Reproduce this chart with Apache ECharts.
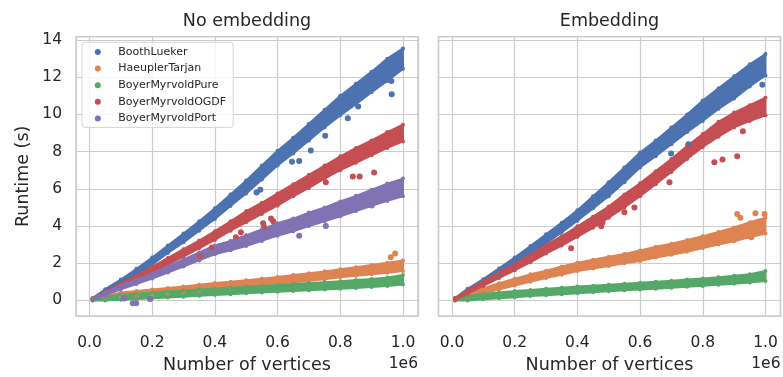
<!DOCTYPE html>
<html>
<head>
<meta charset="utf-8">
<script src="https://cdn.jsdelivr.net/npm/echarts@6/dist/echarts.min.js"></script>
<style>
  html, body { margin: 0; padding: 0; background: #fff; }
  #chart { width: 783px; height: 377px; }
</style>
</head>
<body>
<div id="chart"></div>
<script>
// number of vertices (x), shared by every band
var vertices = [10000, 50000, 100000, 150000, 200000, 250000, 300000, 350000, 400000, 450000,
  500000, 550000, 600000, 650000, 700000, 750000, 800000, 850000, 900000, 950000, 1000000];

var algorithms = ['BoothLueker', 'HaeuplerTarjan', 'BoyerMyrvoldPure', 'BoyerMyrvoldOGDF', 'BoyerMyrvoldPort'];
var xTicks = ['0.0', '0.2', '0.4', '0.6', '0.8', '1.0'];
var yTicks = [0, 2, 4, 6, 8, 10, 12, 14];

// "No embedding": lower / upper edge of each point cloud (seconds)
var noEmbBoothLo = [0.02, 0.4, 0.88, 1.4, 1.92, 2.55, 3.12, 3.75, 4.38, 5.08, 5.75, 6.5, 7.25, 7.9, 8.6, 9.3, 9.95, 10.55, 11.2, 11.8, 12.45];
var noEmbBoothHi = [0.12, 0.6, 1.12, 1.7, 2.3, 2.95, 3.6, 4.25, 4.95, 5.7, 6.45, 7.25, 8.05, 8.75, 9.5, 10.25, 11.0, 11.65, 12.3, 13.0, 13.55];
var noEmbHaeuplerLo = [0.0, 0.06, 0.16, 0.22, 0.3, 0.36, 0.44, 0.51, 0.6, 0.67, 0.74, 0.82, 0.9, 0.98, 1.06, 1.14, 1.24, 1.32, 1.4, 1.48, 1.58];
var noEmbHaeuplerHi = [0.1, 0.24, 0.42, 0.5, 0.58, 0.66, 0.75, 0.84, 0.93, 1.0, 1.08, 1.17, 1.26, 1.36, 1.46, 1.56, 1.68, 1.78, 1.9, 2.02, 2.15];
var noEmbPureLo = [0.0, 0.0, 0.04, 0.08, 0.11, 0.15, 0.2, 0.25, 0.29, 0.33, 0.38, 0.42, 0.46, 0.5, 0.54, 0.58, 0.62, 0.67, 0.72, 0.77, 0.85];
var noEmbPureHi = [0.1, 0.2, 0.3, 0.36, 0.42, 0.48, 0.53, 0.58, 0.63, 0.68, 0.73, 0.78, 0.83, 0.88, 0.93, 0.98, 1.03, 1.09, 1.15, 1.23, 1.36];
var noEmbOgdfLo = [0.03, 0.33, 0.7, 1.1, 1.5, 1.93, 2.35, 2.8, 3.25, 3.75, 4.2, 4.65, 5.1, 5.6, 6.05, 6.55, 7.0, 7.4, 7.8, 8.2, 8.55];
var noEmbOgdfHi = [0.11, 0.47, 0.9, 1.35, 1.8, 2.28, 2.75, 3.22, 3.72, 4.25, 4.8, 5.25, 5.75, 6.25, 6.75, 7.25, 7.75, 8.2, 8.6, 9.05, 9.45];
var noEmbPortLo = [0.03, 0.28, 0.6, 0.88, 1.17, 1.5, 1.82, 2.15, 2.48, 2.7, 2.92, 3.2, 3.48, 3.72, 4.0, 4.25, 4.52, 4.8, 5.08, 5.35, 5.6];
var noEmbPortHi = [0.1, 0.42, 0.8, 1.12, 1.45, 1.82, 2.2, 2.58, 2.95, 3.2, 3.5, 3.82, 4.15, 4.4, 4.72, 5.0, 5.32, 5.62, 5.95, 6.28, 6.55];

// "Embedding"
var embBoothLo = [0.02, 0.4, 0.88, 1.4, 1.92, 2.5, 3.08, 3.65, 4.28, 4.95, 5.6, 6.35, 7.15, 7.75, 8.4, 9.05, 9.65, 10.3, 10.85, 11.5, 12.1];
var embBoothHi = [0.14, 0.62, 1.14, 1.72, 2.3, 2.92, 3.55, 4.18, 4.85, 5.6, 6.35, 7.15, 7.95, 8.6, 9.3, 10.0, 10.75, 11.4, 12.05, 12.7, 13.25];
var embHaeuplerLo = [0.0, 0.16, 0.38, 0.58, 0.8, 1.0, 1.2, 1.38, 1.58, 1.72, 1.85, 2.0, 2.12, 2.3, 2.45, 2.62, 2.82, 3.0, 3.18, 3.4, 3.6];
var embHaeuplerHi = [0.12, 0.4, 0.66, 0.92, 1.16, 1.4, 1.6, 1.82, 2.02, 2.18, 2.35, 2.5, 2.68, 2.88, 3.05, 3.25, 3.45, 3.68, 3.92, 4.2, 4.45];
var embPureLo = [0.0, 0.0, 0.06, 0.12, 0.17, 0.23, 0.28, 0.33, 0.39, 0.44, 0.49, 0.54, 0.58, 0.63, 0.68, 0.73, 0.78, 0.84, 0.9, 0.96, 1.04];
var embPureHi = [0.1, 0.22, 0.34, 0.43, 0.5, 0.56, 0.62, 0.68, 0.74, 0.79, 0.84, 0.9, 0.95, 1.0, 1.06, 1.12, 1.18, 1.25, 1.32, 1.4, 1.58];
var embOgdfLo = [0.02, 0.36, 0.78, 1.2, 1.62, 2.05, 2.52, 2.95, 3.42, 3.9, 4.45, 5.0, 5.6, 6.25, 6.9, 7.6, 8.25, 8.8, 9.3, 9.65, 9.95];
var embOgdfHi = [0.12, 0.54, 1.02, 1.5, 1.98, 2.45, 2.98, 3.45, 3.98, 4.5, 5.05, 5.7, 6.3, 6.95, 7.6, 8.3, 8.95, 9.6, 10.1, 10.5, 10.9];

// stray points outside the clouds [vertices, seconds]
var noEmbBoothOut = [[963000, 11.8], [964000, 11.08], [857000, 10.42], [824000, 9.8], [752000, 8.85], [706000, 8.06], [646000, 7.45], [669000, 7.5], [533000, 5.8], [545000, 5.95]];
var noEmbHaeuplerOut = [[975000, 2.52], [961000, 2.32]];
var noEmbPureOut = [];
var noEmbOgdfOut = [[467000, 3.4], [483000, 3.66], [554000, 4.15], [586000, 4.25], [579000, 4.4], [557000, 3.95], [754000, 6.35], [840000, 6.66], [862000, 6.66], [908000, 6.88], [390000, 2.85], [353000, 2.4]];
var noEmbPortOut = [[110000, 0.1], [138000, -0.15], [149000, -0.15], [193000, 0.08], [754000, 4.0], [669000, 3.48], [900000, 5.1]];
var embBoothOut = [[754000, 8.4], [699000, 7.9], [990000, 11.6], [960000, 11.85]];
var embHaeuplerOut = [[910000, 4.65], [920000, 4.45], [968000, 4.68], [997000, 4.65], [955000, 3.4], [940000, 3.45]];
var embPureOut = [];
var embOgdfOut = [[837000, 7.43], [863000, 7.58], [910000, 7.75], [928000, 9.1], [550000, 4.74], [582000, 5.0], [694000, 6.35], [476000, 3.98], [480000, 4.17], [380000, 2.8]];

var colors = ['#4C72B0', '#DD8452', '#55A868', '#C44E52', '#8172B3'];
var font = 'DejaVu Sans';
var ink = '#262626';

function cloud(name, color, idx, lo, hi, out) {
  var list = [];
  // filled band between the lower and upper edge
  list.push({
    type: 'custom',
    name: name + ' band',
    xAxisIndex: idx,
    yAxisIndex: idx,
    silent: true,
    data: [[vertices[0], lo[0]]],
    renderItem: function (params, api) {
      var pts = [];
      for (var i = 0; i < vertices.length; i++) pts.push(api.coord([vertices[i], hi[i]]));
      for (var j = vertices.length - 1; j >= 0; j--) pts.push(api.coord([vertices[j], lo[j]]));
      return {
        type: 'polygon',
        shape: { points: pts },
        style: { fill: color, stroke: color, lineWidth: 2, lineJoin: 'round' }
      };
    }
  });
  // dots along the edges
  list.push({
    type: 'scatter',
    name: name + ' edge',
    xAxisIndex: idx,
    yAxisIndex: idx,
    silent: true,
    symbolSize: 4,
    itemStyle: { color: color, opacity: 1 },
    data: vertices.map(function (v, i) { return [v, lo[i]]; })
      .concat(vertices.map(function (v, i) { return [v, hi[i]]; }))
  });
  list.push({
    type: 'scatter',
    name: name,
    xAxisIndex: idx,
    yAxisIndex: idx,
    silent: true,
    symbolSize: 6,
    itemStyle: { color: color, opacity: 1 },
    data: out
  });
  return list;
}

var series = [].concat(
  cloud(algorithms[0], colors[0], 0, noEmbBoothLo, noEmbBoothHi, noEmbBoothOut),
  cloud(algorithms[1], colors[1], 0, noEmbHaeuplerLo, noEmbHaeuplerHi, noEmbHaeuplerOut),
  cloud(algorithms[2], colors[2], 0, noEmbPureLo, noEmbPureHi, noEmbPureOut),
  cloud(algorithms[3], colors[3], 0, noEmbOgdfLo, noEmbOgdfHi, noEmbOgdfOut),
  cloud(algorithms[4], colors[4], 0, noEmbPortLo, noEmbPortHi, noEmbPortOut),
  cloud(algorithms[0], colors[0], 1, embBoothLo, embBoothHi, embBoothOut),
  cloud(algorithms[1], colors[1], 1, embHaeuplerLo, embHaeuplerHi, embHaeuplerOut),
  cloud(algorithms[2], colors[2], 1, embPureLo, embPureHi, embPureOut),
  cloud(algorithms[3], colors[3], 1, embOgdfLo, embOgdfHi, embOgdfOut)
);

function xAxis(idx) {
  return {
    type: 'value',
    gridIndex: idx,
    min: -43000,
    max: 1048000,
    minInterval: 200000,
    maxInterval: 200000,
    name: 'Number of vertices',
    nameLocation: 'middle',
    nameGap: 40.5,
    nameTextStyle: { fontFamily: font, fontSize: 17.5, color: ink },
    axisLine: { show: false },
    axisTick: { show: false },
    axisLabel: {
      margin: 18.7,
      fontFamily: font,
      fontSize: 15.5,
      color: ink,
      showMinLabel: false,
      showMaxLabel: false,
      formatter: function (v) {
        var k = Math.round(v / 200000);
        return Math.abs(v - k * 200000) < 1 ? xTicks[k] : '';
      }
    },
    splitLine: { lineStyle: { color: '#cccccc', width: 1.2 } }
  };
}

function yAxis(idx) {
  return {
    type: 'value',
    gridIndex: idx,
    min: -0.84,
    max: 14.18,
    minInterval: 2,
    maxInterval: 2,
    name: idx === 0 ? 'Runtime (s)' : '',
    nameLocation: 'middle',
    nameGap: 44,
    nameTextStyle: { fontFamily: font, fontSize: 17.5, color: ink },
    axisLine: { show: false },
    axisTick: { show: false },
    axisLabel: {
      show: idx === 0,
      margin: 14,
      fontFamily: font,
      fontSize: 15.5,
      color: ink,
      showMinLabel: false,
      showMaxLabel: false,
      formatter: function (v) {
        return yTicks.indexOf(Math.round(v)) >= 0 && Math.abs(v - Math.round(v)) < 1e-6 ? String(Math.round(v)) : '';
      }
    },
    splitLine: { lineStyle: { color: '#cccccc', width: 1.2 } }
  };
}

var gridStyle = { top: 36.7, width: 342, height: 279.3, show: true, borderColor: '#cccccc', borderWidth: 1.5, backgroundColor: '#ffffff', outerBoundsMode: 'none', containLabel: false };

var chart = echarts.init(document.getElementById('chart'), null, { renderer: 'canvas' });
chart.setOption({
  backgroundColor: '#ffffff',
  animation: false,
  grid: [
    Object.assign({ left: 76 }, gridStyle),
    Object.assign({ left: 438.5 }, gridStyle)
  ],
  xAxis: [xAxis(0), xAxis(1)],
  yAxis: [yAxis(0), yAxis(1)],
  legend: {
    data: algorithms,
    orient: 'vertical',
    left: 82,
    top: 42.3,
    icon: 'circle',
    itemWidth: 31,
    itemHeight: 6,
    itemGap: 4.6,
    padding: [3.7, 7, 3, 12.8],
    backgroundColor: 'rgba(255,255,255,0.8)',
    borderColor: '#d6d6d6',
    borderWidth: 1,
    borderRadius: 3,
    selectedMode: false,
    textStyle: { fontFamily: font, fontSize: 11, color: ink, lineHeight: 12 }
  },
  graphic: [
    { type: 'text', x: 247, y: 21, silent: true, style: { text: 'No embedding', textAlign: 'center', textVerticalAlign: 'middle', fontFamily: font, fontSize: 17.5, fill: ink } },
    { type: 'text', x: 609.5, y: 21, silent: true, style: { text: 'Embedding', textAlign: 'center', textVerticalAlign: 'middle', fontFamily: font, fontSize: 17.5, fill: ink } },
    { type: 'text', x: 418, y: 364, silent: true, style: { text: '1e6', textAlign: 'right', textVerticalAlign: 'middle', fontFamily: font, fontSize: 15.5, fill: ink } },
    { type: 'text', x: 780.5, y: 364, silent: true, style: { text: '1e6', textAlign: 'right', textVerticalAlign: 'middle', fontFamily: font, fontSize: 15.5, fill: ink } }
  ],
  series: series
});
window.addEventListener('resize', function () {
  chart.resize();
});
</script>
</body>
</html>
